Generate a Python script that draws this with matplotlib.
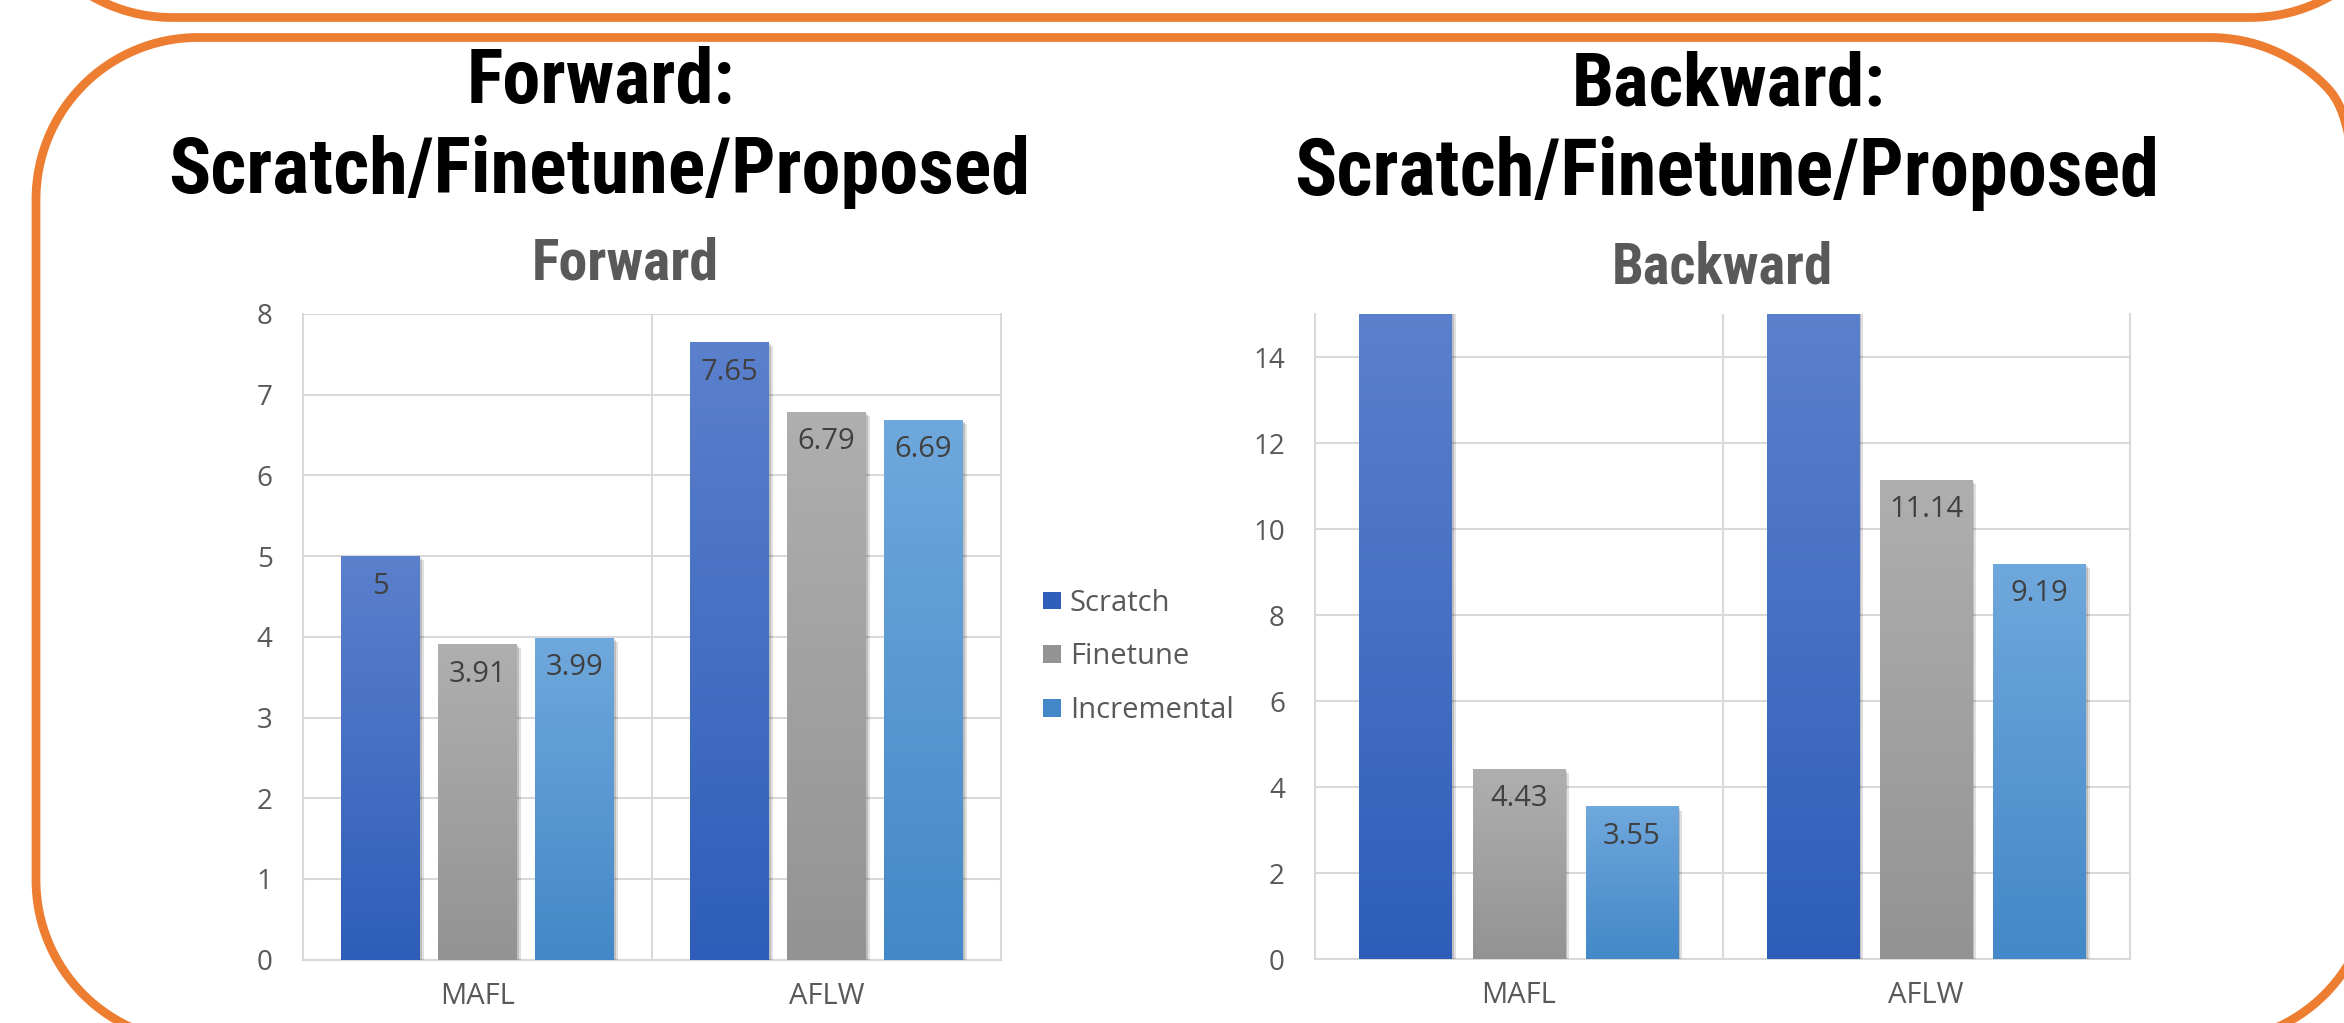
import numpy as np
import matplotlib
matplotlib.use('Agg')
import matplotlib.pyplot as plt
import matplotlib.patheffects as pe
from matplotlib import font_manager
from matplotlib.font_manager import FontProperties
from matplotlib.patches import PathPatch, Patch
from matplotlib.path import Path
from matplotlib.colors import LinearSegmentedColormap

# --- data ---
categories = ['MAFL', 'AFLW']
series = ['Scratch', 'Finetune', 'Incremental']
fwd_scratch = [5.0, 7.65]
fwd_finetune = [3.91, 6.79]
fwd_incremental = [3.99, 6.69]
bwd_scratch = [20.0, 20.0]   # run off the top of the 0-15 axis, no label shown
bwd_finetune = [4.43, 11.14]
bwd_incremental = [3.55, 9.19]

W, H = 2344, 1023
DPI = 100

# bar gradients (bottom, top)
grads = [('#2E5EB9', '#5B80CC'), ('#939393', '#AFAFAF'), ('#4388C8', '#6FA8DC')]
grid_c = '#D9D9D9'
text_c = '#595959'
orange = '#ED7D31'

wmap = {'ultralight': 200, 'light': 300, 'normal': 400, 'regular': 400, 'book': 400,
	'medium': 500, 'roman': 400, 'semibold': 600, 'demibold': 600, 'demi': 600,
	'bold': 700, 'heavy': 800, 'extra bold': 800, 'black': 900}


def is_bold(f):
	w = f.weight
	if isinstance(w, str):
		w = wmap.get(w.lower(), 400)
	return 600 <= w <= 800


def condensed_bold():
	fl = font_manager.fontManager.ttflist
	for fam in ['Liberation Sans Narrow', 'Roboto Condensed', 'Open Sans Condensed',
			'Noto Sans Condensed', 'DejaVu Sans Condensed', 'Arial Narrow']:
		for f in fl:
			if f.name == fam and is_bold(f):
				return FontProperties(fname=f.fname)
	for f in fl:
		if f.stretch in ('condensed', 'semi-condensed', 'extra-condensed') and is_bold(f):
			return FontProperties(fname=f.fname)
	return FontProperties(family='Liberation Sans', weight='bold')


head_fp = condensed_bold()
names = {f.name for f in font_manager.fontManager.ttflist}
body_font = 'Open Sans' if 'Open Sans' in names else 'DejaVu Sans'
plt.rcParams['font.family'] = [body_font, 'DejaVu Sans']

fig = plt.figure(figsize=(W / DPI, H / DPI), dpi=DPI, facecolor='white')
renderer = fig.canvas.get_renderer()


def rounded_rect(x0, y0, x1, y1, r):
	# rectangle with true circular corners (y up)
	verts, codes = [], []
	corners = [((x1 - r, y0 + r), -90, 0), ((x1 - r, y1 - r), 0, 90),
		((x0 + r, y1 - r), 90, 180), ((x0 + r, y0 + r), 180, 270)]
	for (cx, cy), a, b in corners:
		arc = Path.arc(a, b)
		c = list(arc.codes)
		if verts:
			c[0] = Path.LINETO
		verts.extend(arc.vertices * r + [cx, cy])
		codes.extend(c)
	verts.append(verts[0])
	codes.append(Path.CLOSEPOLY)
	return Path(verts, codes)


# orange rounded frames, drawn in pixel space of the whole figure
ov = fig.add_axes([0, 0, 1, 1], zorder=-1)
ov.set_xlim(0, W)
ov.set_ylim(0, H)
ov.axis('off')
# lower box: top edge 37 px from the top, runs off the bottom and right
ov.add_patch(PathPatch(rounded_rect(36, H - 1042, 2372, H - 37.5, 162),
	ec=orange, fc='none', lw=6.3))
# upper box: only its bottom edge shows
ov.add_patch(PathPatch(rounded_rect(10, H - 17.5, 2412, H + 300, 162),
	ec=orange, fc='none', lw=6.3))


def panel(ax, vals, ymax, step):
	x = np.arange(len(categories))
	bw = 0.226
	off = 0.278
	for i, v in enumerate(vals):
		c_bot, c_top = grads[i]
		cmap = LinearSegmentedColormap.from_list('g%d' % i, [c_bot, c_top])
		bars = ax.bar(x + (i - 1) * off, v, bw, color=c_bot, zorder=3, linewidth=0,
			label=series[i])
		for b in bars:
			b.set_path_effects([
				pe.SimplePatchShadow(offset=(3, -3), shadow_rgbFace='k', alpha=0.12),
				pe.SimplePatchShadow(offset=(1.5, -1.5), shadow_rgbFace='k', alpha=0.15),
				pe.Normal()])
			top = min(b.get_height(), ymax)
			g = np.linspace(0, 1, 256).reshape(-1, 1)
			im = ax.imshow(g, extent=(b.get_x(), b.get_x() + b.get_width(), 0, top),
				origin='lower', cmap=cmap, aspect='auto', zorder=4)
			im.set_clip_path(b)
			if b.get_height() <= ymax:
				ax.annotate(f'{b.get_height():g}', (b.get_x() + b.get_width() / 2, b.get_height()),
					xytext=(0, -21.6), textcoords='offset points', ha='center', va='center',
					fontsize=21, color='#404040', zorder=6)
	ax.set_xlim(-0.5, 1.5)
	ax.set_ylim(0, ymax)
	ax.set_yticks(np.arange(0, ymax + 0.01, step))
	ax.set_xticks(x, categories)
	ax.set_xticks([0.5], minor=True)
	ax.set_axisbelow(True)
	ax.grid(axis='y', which='major', color=grid_c, lw=1.5)
	ax.grid(axis='x', which='minor', color=grid_c, lw=1.5)
	ax.grid(axis='x', which='major', visible=False)
	ax.spines['top'].set_visible(False)
	for s in ['left', 'right', 'bottom']:
		ax.spines[s].set_color(grid_c)
		ax.spines[s].set_linewidth(1.5)
	ax.tick_params(axis='both', which='both', length=0, colors=text_c, labelsize=20)
	ax.tick_params(axis='y', pad=21.6)
	ax.tick_params(axis='x', pad=16, labelsize=21)
	ax.set_facecolor('none')


ax1 = fig.add_axes([302.7 / W, (H - 959.6) / H, 698.3 / W, 645.6 / H])
panel(ax1, [fwd_scratch, fwd_finetune, fwd_incremental], 8, 1)
ax2 = fig.add_axes([1315 / W, (H - 959) / H, 815 / W, 645 / H])
panel(ax2, [bwd_scratch, bwd_finetune, bwd_incremental], 15, 2)


def heading(x, y, s, width, color):
	# size the text so it spans the same width as on the slide
	fp = head_fp.copy()
	fp.set_size(40)
	t = fig.text(x / W, 1 - y / H, s, ha='center', va='baseline',
		fontproperties=fp, color=color)
	w = t.get_window_extent(renderer).width
	fp.set_size(40 * width / w)
	t.set_fontproperties(fp)
	return t


heading(601, 103, 'Forward:', 268, 'black')
heading(599, 193, 'Scratch/Finetune/Proposed', 861, 'black')
heading(1729, 106, 'Backward:', 314, 'black')
heading(1727, 195, 'Scratch/Finetune/Proposed', 864, 'black')

# chart titles
heading(625, 280, 'Forward', 187, text_c)
heading(1722, 283, 'Backward', 221, text_c)

handles = [Patch(facecolor=grads[i][0], label=series[i]) for i in range(3)]
fig.legend(handles=handles, loc='center left', bbox_to_anchor=(1043 / W, 1 - 657 / H),
	frameon=False, fontsize=21, handlelength=0.62, handleheight=0.55,
	handletextpad=0.3, labelspacing=0.85, borderpad=0, borderaxespad=0,
	labelcolor=text_c)

fig.savefig('out.png', dpi=DPI, facecolor='white')
